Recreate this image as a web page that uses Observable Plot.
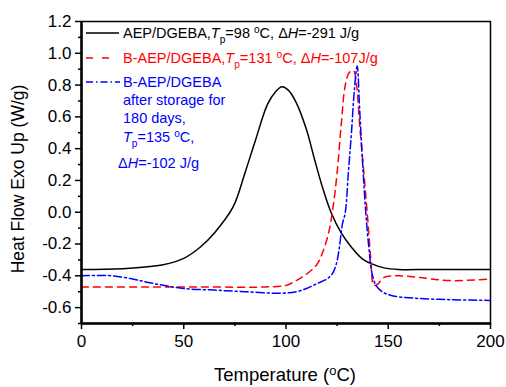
<!DOCTYPE html>
<html><head><meta charset="utf-8">
<script src="https://cdn.jsdelivr.net/npm/d3@7"></script>
<script src="https://cdn.jsdelivr.net/npm/@observablehq/plot@0.6"></script>
<style>
body{margin:0;background:#fff;font-family:"Liberation Sans",Arial,sans-serif;}
#wrap{position:relative;width:506px;height:387px;}
.lg{position:absolute;white-space:nowrap;font-size:14.5px;line-height:14.5px;}
.sb{font-size:70%;position:relative;top:0.45em;}
.sp{font-size:70%;position:relative;top:-0.45em;}
#xl{position:absolute;left:285px;top:366px;transform:translateX(-50%);font-size:18.5px;line-height:18.5px;white-space:nowrap;}
#yl{position:absolute;left:19px;top:178.5px;transform:translate(-50%,-50%) rotate(-90deg);font-size:17.5px;line-height:17.5px;white-space:nowrap;}
</style></head>
<body><div id="wrap"></div>
<script>
// Black: AEP/DGEBA
const tBlack = [0,20,40,50,58,65,74,80,85,91,95,98,101,105,110,114,118,122,127,132,137,142,148,155,170,200];
const vBlack = [-0.36,-0.355,-0.33,-0.29,-0.22,-0.13,0.03,0.25,0.45,0.68,0.76,0.79,0.77,0.69,0.52,0.33,0.15,0.0,-0.13,-0.22,-0.29,-0.325,-0.35,-0.36,-0.36,-0.36];
// Red: B-AEP/DGEBA
const tRed = [0,30,60,90,100,105,110,115,118,121,123,125,127,129,131,133,134.5,136,138,140,141.5,143,145,148,155,165,180,200];
const vRed = [-0.47,-0.47,-0.47,-0.47,-0.46,-0.43,-0.39,-0.33,-0.25,-0.12,0.03,0.25,0.55,0.80,0.88,0.89,0.80,0.55,0.26,-0.05,-0.30,-0.46,-0.45,-0.41,-0.40,-0.41,-0.43,-0.42];
// Blue: B-AEP/DGEBA after storage
const tBlue = [0,15,25,32,40,50,65,80,97,105,110,115,120,122.5,124.5,126,127.5,129,130.5,132,133.5,134.8,136,137.5,139,140.5,142,144,147,152,162,180,200];
const vBlue = [-0.40,-0.40,-0.42,-0.44,-0.46,-0.48,-0.49,-0.50,-0.51,-0.50,-0.48,-0.45,-0.42,-0.39,-0.33,-0.23,-0.08,0.0,0.25,0.50,0.78,0.92,0.65,0.30,0.0,-0.22,-0.38,-0.46,-0.50,-0.525,-0.54,-0.55,-0.555];

const xMajor = [0,50,100,150,200];
const xMinor = [25,75,125,175];
const yMajor = [-0.6,-0.4,-0.2,0,0.2,0.4,0.6,0.8,1.0,1.2];
const yMinor = [-0.7,-0.5,-0.3,-0.1,0.1,0.3,0.5,0.7,0.9,1.1];
const yLabel = "Heat Flow Exo Up (W/g)";

const mk = (t,v)=>t.map((x,i)=>({t:x,v:v[i]}));
const black = mk(tBlack,vBlack), red = mk(tRed,vRed), blue = mk(tBlue,vBlue);

const chart = Plot.plot({
  width:506, height:387,
  marginLeft:81, marginRight:16, marginTop:21, marginBottom:64,
  x:{domain:[0,200]}, y:{domain:[-0.7,1.2]},
  style:{fontFamily:"'Liberation Sans', Arial, sans-serif", fontSize:"17px", color:"black", background:"white"},
  marks:[
    Plot.line(black,{x:"t",y:"v",stroke:"black",strokeWidth:1.5,curve:"catmull-rom"}),
    Plot.line(red,{x:"t",y:"v",stroke:"#ff0000",strokeWidth:1.5,strokeDasharray:"7,5",curve:"catmull-rom"}),
    Plot.line(blue,{x:"t",y:"v",stroke:"#0000ff",strokeWidth:1.5,strokeDasharray:"8,3,2,3",curve:"catmull-rom"}),
    Plot.frame({strokeWidth:1.5}),
    Plot.ruleY([-0.7],{strokeWidth:2.5}),
    Plot.ruleX([0],{strokeWidth:2.5}),
    Plot.axisX({ticks:xMajor,tickSize:6,tickPadding:5,strokeWidth:1.5,label:null,tickFormat:d=>String(d)}),
    Plot.axisX({ticks:xMinor,tickSize:3,text:null,label:null,strokeWidth:1.5}),
    Plot.axisY({ticks:yMajor,tickSize:6,tickPadding:4,strokeWidth:1.5,tickFormat:d=>d.toFixed(1),label:null}),
    Plot.axisY({ticks:yMinor,tickSize:3,text:null,label:null,strokeWidth:1.5})
  ]
});
const wrap = document.getElementById("wrap");
wrap.appendChild(chart);
chart.style.position="absolute"; chart.style.left="0"; chart.style.top="0";

const html = `
<svg style="position:absolute;left:0;top:0" width="506" height="387">
 <line x1="86" x2="119" y1="33" y2="33" stroke="black" stroke-width="1.5"/>
 <line x1="86" x2="109" y1="58" y2="58" stroke="#ff0000" stroke-width="1.5" stroke-dasharray="7,9"/>
 <line x1="86" x2="120" y1="82" y2="82" stroke="#0000ff" stroke-width="1.5" stroke-dasharray="7,3,1.5,3"/>
</svg>
<div class="lg" style="left:123px;top:26px;color:black">AEP/DGEBA,<i>T</i><span class="sb">p</span>=98 <span class="sp">o</span>C, &Delta;<i>H</i>=-291 J/g</div>
<div class="lg" style="left:123px;top:51px;color:#ff0000">B-AEP/DGEBA,<i>T</i><span class="sb">p</span>=131 <span class="sp">o</span>C, &Delta;<i>H</i>=-107J/g</div>
<div class="lg" style="left:123px;top:75px;color:#0000ff">B-AEP/DGEBA</div>
<div class="lg" style="left:123px;top:93px;color:#0000ff">after storage for</div>
<div class="lg" style="left:123px;top:111px;color:#0000ff">180 days,</div>
<div class="lg" style="left:123px;top:130px;color:#0000ff"><i>T</i><span class="sb">p</span>=135 <span class="sp">o</span>C,</div>
<div class="lg" style="left:118px;top:156px;color:#0000ff">&Delta;<i>H</i>=-102 J/g</div>
<div id="yl">${yLabel}</div>
<div id="xl">Temperature (<span class="sp">o</span>C)</div>`;
wrap.insertAdjacentHTML("beforeend", html);
</script></body></html>
